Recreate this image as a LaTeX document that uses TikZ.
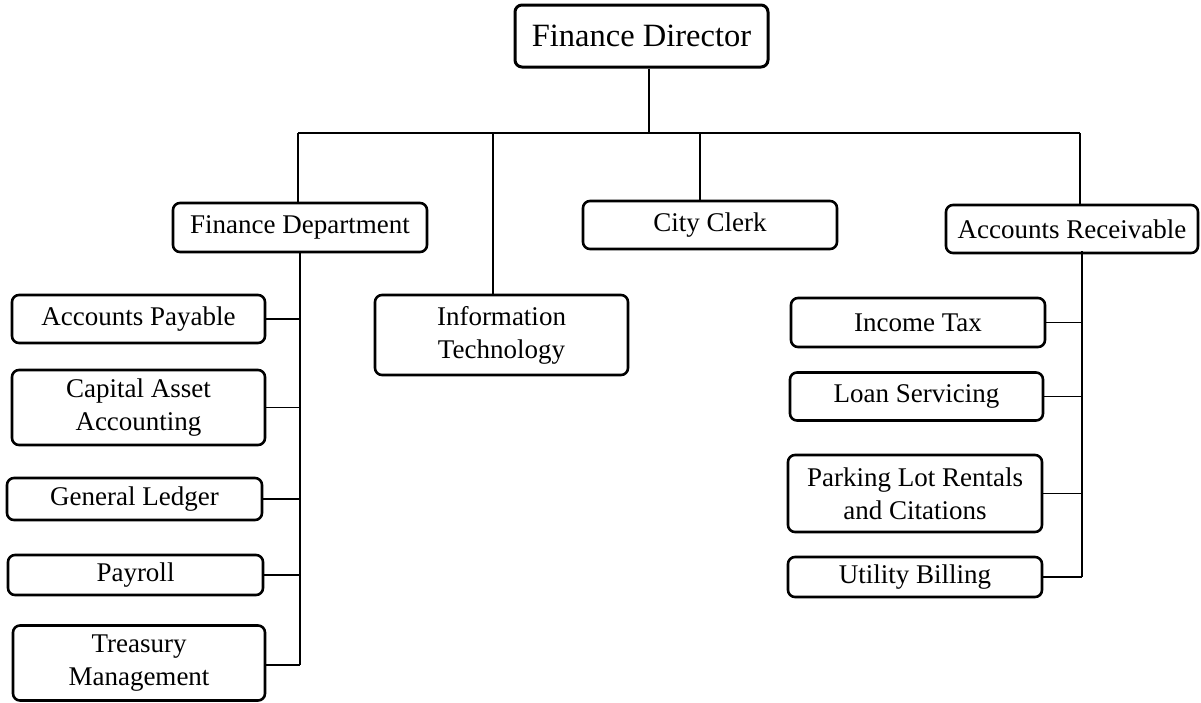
\documentclass[tikz,border=0pt]{standalone}
\usepackage{fontspec}
\setmainfont{Liberation Serif}
\begin{document}
\begin{tikzpicture}[x=1pt,y=-1pt,
  orgbox/.style={draw=black, line width=2.6pt, rounded corners=7pt, fill=white,
    align=center, inner sep=0pt, font=\fontsize{27}{33}\selectfont},
  conn/.style={draw=black, line width=1.3pt}]
\useasboundingbox (0,0) rectangle (1201,702);
% top
\node[orgbox, minimum width=253pt, minimum height=62pt, line width=3pt, font=\fontsize{32.5}{38}\selectfont] (dir) at (641.5,36) {Finance Director};
% second level
\node[orgbox, minimum width=254pt, minimum height=49pt] (fd) at (300,227.5) {Finance Department};
\node[orgbox, minimum width=253pt, minimum height=80pt] (it) at (501.5,335) {Information\\Technology};
\node[orgbox, minimum width=254pt, minimum height=48pt] (cc) at (710,225) {City Clerk};
\node[orgbox, minimum width=252pt, minimum height=48pt] (ar) at (1072,229) {Accounts Receivable};
% left column
\node[orgbox, minimum width=253pt, minimum height=48pt] (ap) at (138.5,319) {Accounts Payable};
\node[orgbox, minimum width=253pt, minimum height=75pt] (ca) at (138.5,407.5) {Capital Asset\\Accounting};
\node[orgbox, minimum width=255pt, minimum height=42pt] (gl) at (134.5,499) {General Ledger};
\node[orgbox, minimum width=255pt, minimum height=40pt] (pr) at (135.5,575) {Payroll};
\node[orgbox, minimum width=252pt, minimum height=75pt] (tm) at (139,663) {Treasury\\Management};
% right column
\node[orgbox, minimum width=254pt, minimum height=49pt] (inc) at (918,322.5) {Income Tax};
\node[orgbox, minimum width=253pt, minimum height=48pt] (ls) at (916.5,396.5) {Loan Servicing};
\node[orgbox, minimum width=254pt, minimum height=77pt] (pk) at (915,493.5) {Parking Lot Rentals\\and Citations};
\node[orgbox, minimum width=254pt, minimum height=40pt] (ub) at (915,577) {Utility Billing};
% bus coordinates
\coordinate (j0) at (649,133);
\coordinate (bL) at (298,133);
\coordinate (bR) at (1080,133);
\coordinate (bIT) at (493,133);
\coordinate (bCC) at (700,133);
\coordinate (sL) at (300,665);
\coordinate (sR) at (1082,577);
% connectors
\draw[conn] (dir.south -| j0) -- (j0);
\draw[conn] (bL) -- (bR);
\draw[conn] (bL) -- (bL |- fd.north);
\draw[conn] (bIT) -- (bIT |- it.north);
\draw[conn] (bCC) -- (bCC |- cc.north);
\draw[conn] (bR) -- (bR |- ar.north);
\draw[conn] (fd.south -| sL) -- (sL);
\draw[conn] (ap.east) -- (ap.east -| sL);
\draw[conn] (ca.east) -- (ca.east -| sL);
\draw[conn] (gl.east) -- (gl.east -| sL);
\draw[conn] (pr.east) -- (pr.east -| sL);
\draw[conn] (tm.east |- sL) -- (sL);
\draw[conn] ([yshift=3pt]ar.south -| sR) -- (sR);
\draw[conn] (inc.east) -- (inc.east -| sR);
\draw[conn] (ls.east) -- (ls.east -| sR);
\draw[conn] (pk.east) -- (pk.east -| sR);
\draw[conn] (ub.east) -- (sR);
\end{tikzpicture}
\end{document}
